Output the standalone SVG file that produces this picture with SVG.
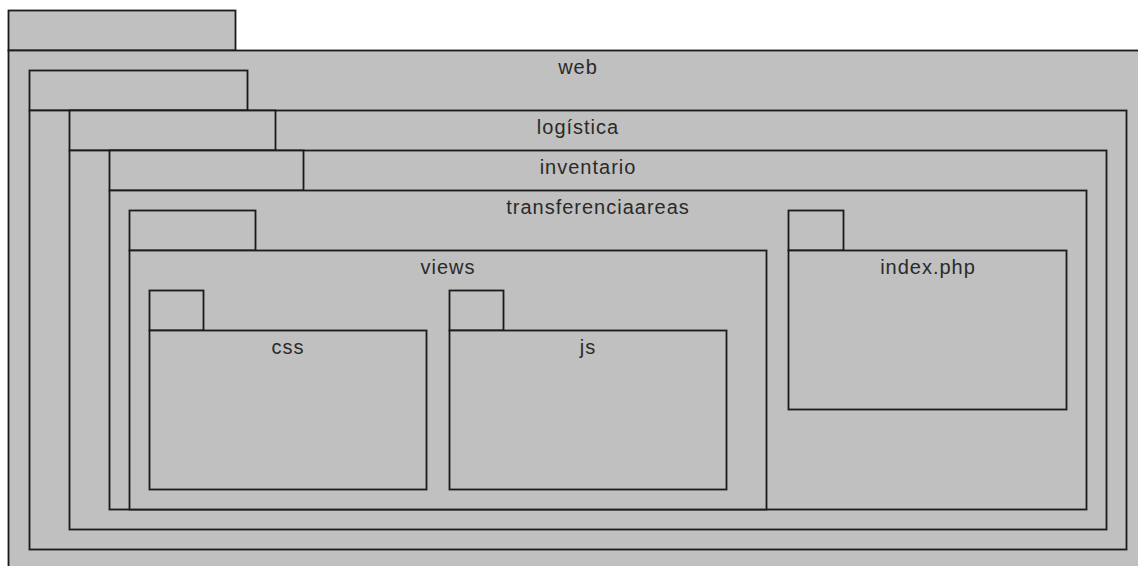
<svg xmlns="http://www.w3.org/2000/svg" width="1138" height="566" viewBox="0 0 1138 566">
  <style>
    .pk { fill: #c0c0c0; stroke: #1a1a1a; stroke-width: 1.8; }
    .lbl { font-family: "Liberation Sans", Arial, sans-serif; font-size: 20px; letter-spacing: 1px; fill: #2a2a2a; text-anchor: middle; }
  </style>
  <rect x="0" y="0" width="1138" height="566" fill="#ffffff"/>
  <g id="web">
    <rect class="pk" x="8.5" y="10.5" width="227" height="40"/>
    <rect class="pk" x="8.5" y="50.5" width="1140" height="525"/>
    <text class="lbl" x="578" y="74">web</text>
  </g>
  <g id="logistica">
    <rect class="pk" x="29.5" y="70.5" width="218" height="40"/>
    <rect class="pk" x="29.5" y="110.5" width="1097" height="439"/>
    <text class="lbl" x="578" y="134">logística</text>
  </g>
  <g id="inventario">
    <rect class="pk" x="69.5" y="110.5" width="206" height="40"/>
    <rect class="pk" x="69.5" y="150.5" width="1037" height="379"/>
    <text class="lbl" x="588" y="174">inventario</text>
  </g>
  <g id="transferenciaareas">
    <rect class="pk" x="109.5" y="150.5" width="194" height="40"/>
    <rect class="pk" x="109.5" y="190.5" width="977" height="319"/>
    <text class="lbl" x="598" y="214">transferenciaareas</text>
  </g>
  <g id="views">
    <rect class="pk" x="129.5" y="210.5" width="126" height="40"/>
    <rect class="pk" x="129.5" y="250.5" width="637" height="259"/>
    <text class="lbl" x="448" y="274">views</text>
  </g>
  <g id="css">
    <rect class="pk" x="149.5" y="290.5" width="54" height="40"/>
    <rect class="pk" x="149.5" y="330.5" width="277" height="159"/>
    <text class="lbl" x="288" y="354">css</text>
  </g>
  <g id="js">
    <rect class="pk" x="449.5" y="290.5" width="54" height="40"/>
    <rect class="pk" x="449.5" y="330.5" width="277" height="159"/>
    <text class="lbl" x="588" y="354">js</text>
  </g>
  <g id="index-php">
    <rect class="pk" x="788.5" y="210.5" width="55" height="40"/>
    <rect class="pk" x="788.5" y="250.5" width="278" height="159"/>
    <text class="lbl" x="928" y="274">index.php</text>
  </g>
  <g id="connectors"/>
</svg>
